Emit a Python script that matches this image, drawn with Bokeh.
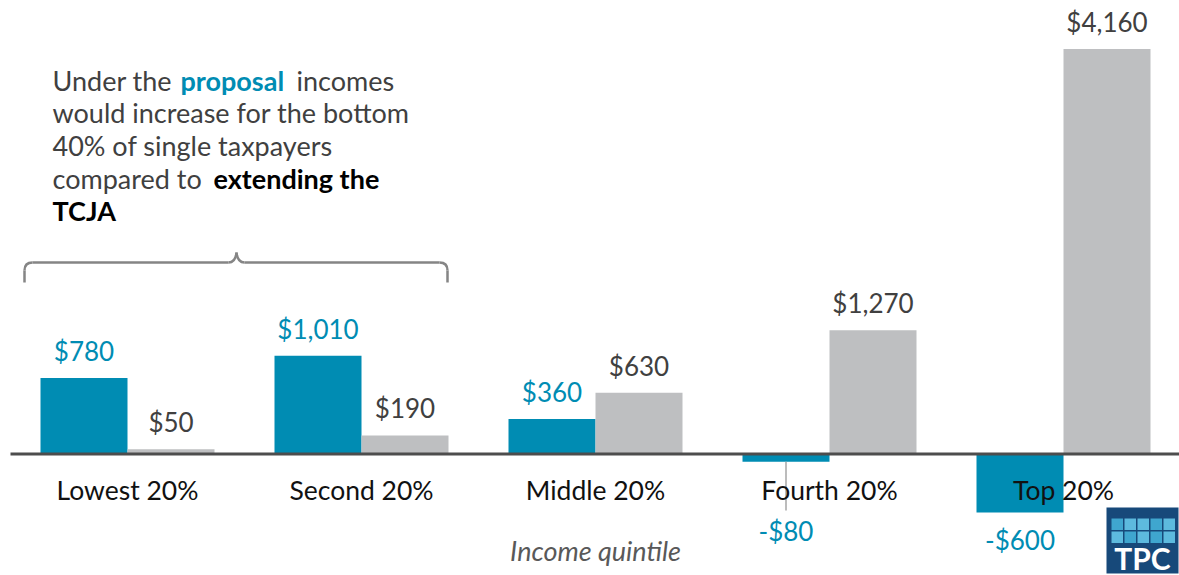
from bokeh.plotting import figure
from bokeh.models import Range1d
from bokeh.embed import file_html
from bokeh.resources import INLINE
from bokeh.core.properties import value

# ---------------- data ----------------
quintiles = ["Lowest 20%", "Second 20%", "Middle 20%", "Fourth 20%", "Top 20%"]
proposal = [780, 1010, 360, -80, -600]
tcja = [50, 190, 630, 1270, 4160]
proposal_labels = ["$780", "$1,010", "$360", "-$80", "-$600"]
tcja_labels = ["$50", "$190", "$630", "$1,270", "$4,160"]
axis_title = "Income quintile"

TEAL = "#008CB3"
GRAY = "#BEBFC1"
TEXT = "#404040"
FONT = "Lato"

# ---------------- pixel helpers for annotations ----------------
X0, DX = 127.0, 234.0      # reference px of first group centre, group spacing
Y0, K = 453.5, 10.27       # baseline px, value units per px


def ux(X):
    return (X - X0) / DX


def uy(Y):
    return (Y0 - Y) * K


W, H = 1179, 575
p = figure(width=W, height=H, output_backend="svg", toolbar_location=None,
           x_range=Range1d(ux(0), ux(W)), y_range=Range1d(uy(H), uy(0)),
           min_border=0)
p.axis.visible = False
p.grid.visible = False
p.outline_line_color = None
p.background_fill_color = "white"
p.border_fill_color = "white"

bw = 87.0 / DX
xs = list(range(len(quintiles)))
x_prop = [x - bw / 2 for x in xs]
x_tcja = [x + bw / 2 for x in xs]

p.vbar(x=x_prop, top=proposal, bottom=0, width=bw, fill_color=TEAL, line_color=None)
p.vbar(x=x_tcja, top=tcja, bottom=0, width=bw, fill_color=GRAY, line_color=None)

# baseline
p.segment(x0=[ux(10)], y0=[0], x1=[ux(W)], y1=[0], line_color="#4D4D4D", line_width=3)

# value labels
common = dict(text_font=value(FONT), text_font_size="26px", text_align="center",
              text_baseline="middle")
pos_x, pos_y, pos_t, pos_c = [], [], [], []
for x, v, t in zip(x_prop, proposal, proposal_labels):
    if v >= 0:
        pos_x.append(x); pos_y.append(v); pos_t.append(t); pos_c.append(TEAL)
for x, v, t in zip(x_tcja, tcja, tcja_labels):
    pos_x.append(x); pos_y.append(v); pos_t.append(t); pos_c.append(TEXT)
p.text(x=pos_x, y=pos_y, text=pos_t, text_color=pos_c, y_offset=-27, **common)

neg_x, neg_y, neg_t = [], [], []
for x, v, t in zip(x_prop, proposal, proposal_labels):
    if v < 0:
        if v > -500:
            # pushed below the category label with a leader line
            neg_x.append(x); neg_y.append(uy(530)); neg_t.append(t)
            p.segment(x0=[x], y0=[v], x1=[x], y1=[uy(510)], line_color="#A6A6A6", line_width=1.5)
        else:
            neg_x.append(x); neg_y.append(v + uy(Y0 + 28)); neg_t.append(t)
p.text(x=neg_x, y=neg_y, text=neg_t, text_color=TEAL, **common)

# category labels
p.text(x=xs, y=[uy(489)] * len(xs), text=quintiles, text_color="#111111",
       text_font=value(FONT), text_font_size="26.5px", text_align="center",
       text_baseline="middle")

# axis title
p.text(x=[ux(595)], y=[uy(550)], text=[axis_title], text_color="#595959",
       text_font_style="italic", text_font=value(FONT), text_font_size="27px",
       text_align="center", text_baseline="middle")

# annotation text
runs = [
    (80, 52, "Under the", TEXT, "normal"),
    (80, 180, "proposal", TEAL, "bold"),
    (80, 296, "incomes", TEXT, "normal"),
    (112, 52, "would increase for the bottom", TEXT, "normal"),
    (145, 52, "40% of single taxpayers", TEXT, "normal"),
    (178, 52, "compared to", TEXT, "normal"),
    (178, 213, "extending the", "#000000", "bold"),
    (210, 52, "TCJA", "#000000", "bold"),
]
for yy, xx, t, c, st in runs:
    p.text(x=[ux(xx)], y=[uy(yy)], text=[t], text_color=c, text_font_style=st,
           text_font=value(FONT), text_font_size="27px", text_align="left",
           text_baseline="middle")

# bracket
BC, BW = "#858585", 2.5
L, R, C, TOP, HY, BOT = 24, 447, 236, 252, 262, 282
p.segment(x0=[ux(L), ux(R), ux(L + 8), ux(C + 8)], y0=[uy(BOT), uy(BOT), uy(HY), uy(HY)],
          x1=[ux(L), ux(R), ux(C - 8), ux(R - 8)], y1=[uy(HY + 8), uy(HY + 8), uy(HY), uy(HY)],
          line_color=BC, line_width=BW)
p.quadratic(x0=[ux(L), ux(R), ux(C - 8), ux(C + 8)],
            y0=[uy(HY + 8), uy(HY + 8), uy(HY), uy(HY)],
            x1=[ux(L + 8), ux(R - 8), ux(C), ux(C)],
            y1=[uy(HY), uy(HY), uy(TOP), uy(TOP)],
            cx=[ux(L), ux(R), ux(C - 1), ux(C + 1)],
            cy=[uy(HY), uy(HY), uy(HY), uy(HY)],
            line_color=BC, line_width=BW)

# TPC logo
p.quad(left=[ux(1106)], right=[ux(1178)], top=[uy(507)], bottom=[uy(573)],
       fill_color="#17497A", line_color=None)
sq_l, sq_r, sq_t, sq_b, sq_c = [], [], [], [], []
row_cols = [["#3FA6CF", "#5DBADE", "#5DBADE", "#3FA6CF", "#5DBADE"],
            ["#5DBADE", "#3FA6CF", "#5DBADE", "#3FA6CF", "#5DBADE"]]
for r in range(2):
    for c in range(5):
        sq_l.append(ux(1111 + 13 * c)); sq_r.append(ux(1111 + 13 * c + 11.5))
        sq_t.append(uy(518 + 13 * r)); sq_b.append(uy(518 + 13 * r + 11.5))
        sq_c.append(row_cols[r][c])
p.quad(left=sq_l, right=sq_r, top=sq_t, bottom=sq_b, fill_color=sq_c, line_color=None)
p.text(x=[ux(1142)], y=[uy(557)], text=["TPC"], text_color="white", text_font_style="bold",
       text_font=value(FONT), text_font_size="30px", text_align="center", text_baseline="middle")

open("out.html", "w").write(file_html(p, INLINE))
